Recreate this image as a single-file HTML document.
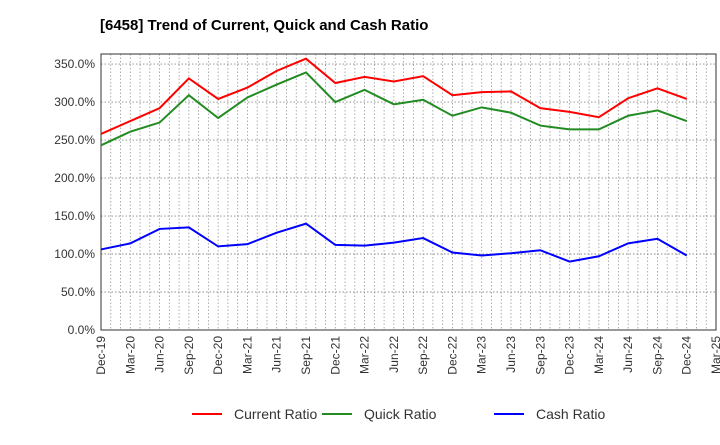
<!DOCTYPE html>
<html><head><meta charset="utf-8"><style>
body{margin:0;background:#fff;font-family:"Liberation Sans",sans-serif}
svg text{font-family:"Liberation Sans",sans-serif}
</style></head><body>
<svg width="720" height="440" xmlns="http://www.w3.org/2000/svg">
<text x="100" y="30" font-size="15" font-weight="bold" fill="#000">[6458]  Trend of Current, Quick and Cash Ratio</text>
<g id="grid"></g>
<g id="axes"></g>
<g id="series"></g>
<g id="legend"></g>
</svg>
<script>
const categories=["Dec-19","Mar-20","Jun-20","Sep-20","Dec-20","Mar-21","Jun-21","Sep-21","Dec-21","Mar-22","Jun-22","Sep-22","Dec-22","Mar-23","Jun-23","Sep-23","Dec-23","Mar-24","Jun-24","Sep-24","Dec-24","Mar-25"];
const currentRatio=[258,275,292,331,304,319,341,357,325,333,327,334,309,313,314,292,287,280,305,318,304];
const quickRatio=[243,261,273,309,279,306,323,339,300,316,297,303,282,293,286,269,264,264,282,289,275];
const cashRatio=[106,114,133,135,110,113,128,140,112,111,115,121,102,98,101,105,90,97,114,120,98];
const yTicks=[0,50,100,150,200,250,300,350];
const L=101,R=716,T=54,B=330,YMAX=363.2;
const xs=i=>L+i*(R-L)/(categories.length-1);
const ys=v=>B-v/YMAX*(B-T);
const NS="http://www.w3.org/2000/svg";
function mk(tag,attrs,parent){const e=document.createElementNS(NS,tag);for(const k in attrs)e.setAttribute(k,attrs[k]);parent.appendChild(e);return e;}
const grid=document.getElementById('grid'),axes=document.getElementById('axes'),series=document.getElementById('series'),legend=document.getElementById('legend');
// minor vertical grid (monthly)
for(let m=0;m<=63;m++){const x=L+m*(R-L)/63;const g=mk('line',{x1:x,x2:x,y1:T,y2:B,stroke:'#999','stroke-width':0.8,'stroke-dasharray':'1.5,2'},grid);

}
yTicks.forEach(v=>{const y=ys(v);const g=mk('line',{x1:L,x2:R,y1:y,y2:y,stroke:'#888','stroke-width':0.9,'stroke-dasharray':'1.5,2'},grid);


const t=mk('text',{x:L-6,y:y+4,'font-size':12,'text-anchor':'end',fill:'#333'},axes);t.textContent=v.toFixed(1)+'%';

});
const frame=mk('rect',{x:L,y:T,width:R-L,height:B-T,fill:'none',stroke:'#333','stroke-width':1},axes);


categories.forEach((c,i)=>{const x=xs(i);const t=mk('text',{x:0,y:0,'font-size':12,'text-anchor':'end',fill:'#333',transform:`translate(${x+4},${B+6}) rotate(-90)`},axes);t.textContent=c;

});
const defs=[[currentRatio,'#ff0000','Current Ratio','current-ratio-line'],[quickRatio,'#228b22','Quick Ratio','quick-ratio-line'],[cashRatio,'#0000ff','Cash Ratio','cash-ratio-line']];
defs.forEach(([d,c,n,nm])=>{const p=mk('polyline',{points:d.map((v,i)=>xs(i)+','+ys(v)).join(' '),fill:'none',stroke:c,'stroke-width':2},series);

});
const lx=[192,322,494];
defs.forEach(([d,c,n],i)=>{const g=mk('g',{},legend);


mk('line',{x1:lx[i],x2:lx[i]+30,y1:414,y2:414,stroke:c,'stroke-width':2},g);
const t=mk('text',{x:lx[i]+42,y:419,'font-size':14,fill:'#333'},g);t.textContent=n;});
</script>
</body></html>
